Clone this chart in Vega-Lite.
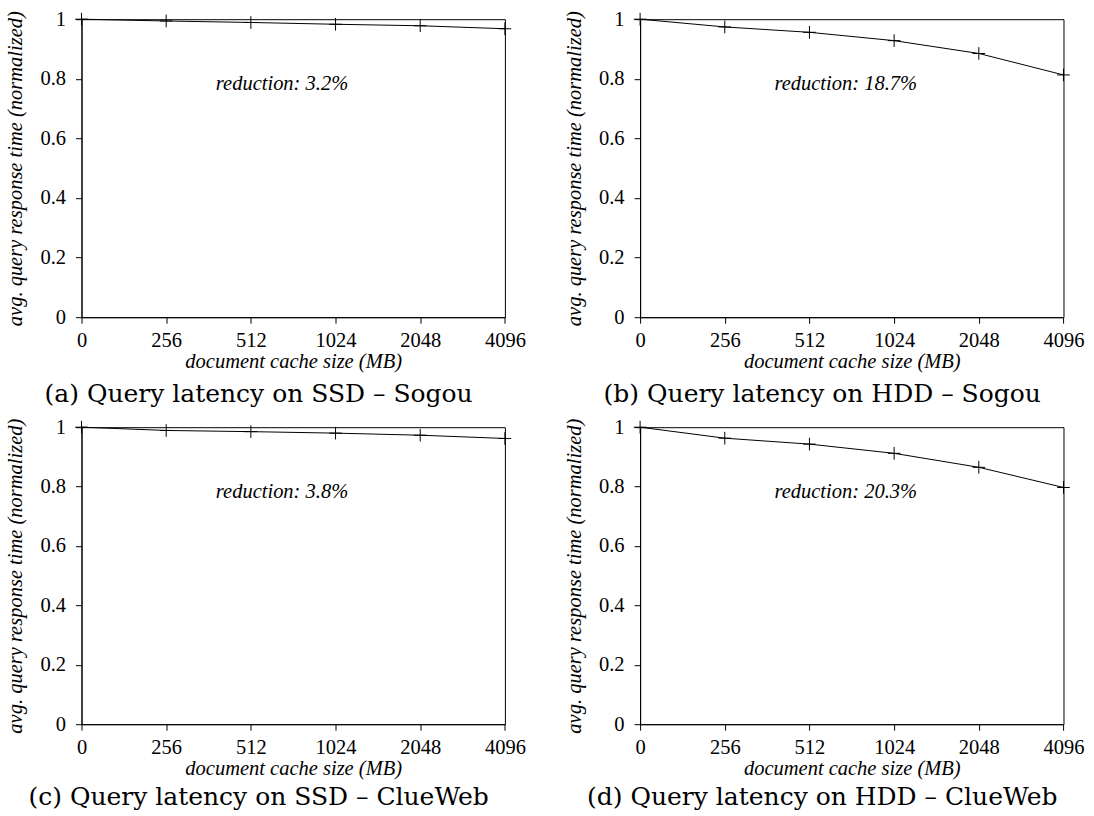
{
  "$schema": "https://vega.github.io/schema/vega-lite/v6.json",
  "padding": {"left": 4.5, "top": 8.2, "right": 5, "bottom": 5},
  "background": "white",
  "datasets": {
    "lat": [
      {"panel": "a", "size": 0, "rt": 1.0},
      {"panel": "a", "size": 256, "rt": 0.994},
      {"panel": "a", "size": 512, "rt": 0.989},
      {"panel": "a", "size": 1024, "rt": 0.983},
      {"panel": "a", "size": 2048, "rt": 0.978},
      {"panel": "a", "size": 4096, "rt": 0.968},
      {"panel": "b", "size": 0, "rt": 1.0},
      {"panel": "b", "size": 256, "rt": 0.974},
      {"panel": "b", "size": 512, "rt": 0.956},
      {"panel": "b", "size": 1024, "rt": 0.928},
      {"panel": "b", "size": 2048, "rt": 0.885},
      {"panel": "b", "size": 4096, "rt": 0.813},
      {"panel": "c", "size": 0, "rt": 1.0},
      {"panel": "c", "size": 256, "rt": 0.989},
      {"panel": "c", "size": 512, "rt": 0.985},
      {"panel": "c", "size": 1024, "rt": 0.980},
      {"panel": "c", "size": 2048, "rt": 0.973},
      {"panel": "c", "size": 4096, "rt": 0.962},
      {"panel": "d", "size": 0, "rt": 1.0},
      {"panel": "d", "size": 256, "rt": 0.963},
      {"panel": "d", "size": 512, "rt": 0.943},
      {"panel": "d", "size": 1024, "rt": 0.912},
      {"panel": "d", "size": 2048, "rt": 0.865},
      {"panel": "d", "size": 4096, "rt": 0.797}
    ],
    "notes": [
      {"panel": "a", "note": "reduction: 3.2%"},
      {"panel": "b", "note": "reduction: 18.7%"},
      {"panel": "c", "note": "reduction: 3.8%"},
      {"panel": "d", "note": "reduction: 20.3%"}
    ]
  },
  "config": {
    "font": "Liberation Serif",
    "view": {"stroke": "black", "strokeWidth": 1},
    "axis": {
      "domainColor": "black", "tickColor": "black", "labelColor": "black", "titleColor": "black",
      "labelFont": "Liberation Serif", "labelFontSize": 20.5,
      "titleFont": "Liberation Serif", "titleFontSize": 20.5, "titleFontStyle": "italic", "titleFontWeight": "normal",
      "grid": false, "tickSize": 6, "tickWidth": 1, "domainWidth": 1,
      "labelOverlap": false, "labelFlush": false
    },
    "axisX": {"labelPadding": 7, "titlePadding": 1},
    "axisY": {"labelPadding": 10, "titlePadding": 14},
    "text": {"font": "Liberation Serif", "fontStyle": "italic", "fontSize": 20.5, "color": "black"},
    "title": {"font": "DejaVu Serif", "fontSize": 25, "fontWeight": "normal", "color": "black", "orient": "bottom", "anchor": "middle", "frame": "bounds", "offset": 10}
  },
  "bounds": "flush",
  "columns": 2,
  "spacing": {"row": 110, "column": 134.6},
  "concat": [
    {
      "width": 423.4, "height": 298,
      "title": {"text": "(a) Query latency on SSD – Sogou", "dx": -7},
      "encoding": {
        "x": {"field": "size", "type": "ordinal", "scale": {"type": "point", "padding": 0}, "axis": {"labelAngle": 0, "title": "document cache size (MB)"}},
        "y": {"field": "rt", "type": "quantitative", "scale": {"domain": [0, 1], "nice": false}, "axis": {"values": [0, 0.2, 0.4, 0.6, 0.8, 1], "format": "~g", "title": "avg. query response time (normalized)"}}
      },
      "layer": [
        {"data": {"name": "lat"}, "transform": [{"filter": "datum.panel === 'a'"}], "mark": {"type": "line", "color": "black", "strokeWidth": 1}},
        {"data": {"name": "lat"}, "transform": [{"filter": "datum.panel === 'a'"}], "mark": {"type": "point", "shape": "M-1,0H1M0,-1V1", "size": 160, "filled": false, "stroke": "black", "strokeWidth": 1, "opacity": 1}},
        {"data": {"name": "lat"}, "transform": [{"filter": "datum.panel === 'a' && datum.size === 512"}, {"lookup": "panel", "from": {"data": {"name": "notes"}, "key": "panel", "fields": ["note"]}}],
         "mark": {"type": "text", "align": "left", "baseline": "alphabetic", "dx": -35, "dy": 11},
         "encoding": {"y": {"datum": 0.8}, "text": {"field": "note", "type": "nominal"}}}
      ]
    },
    {
      "width": 423.4, "height": 298,
      "title": {"text": "(b) Query latency on HDD – Sogou", "dx": -2},
      "encoding": {
        "x": {"field": "size", "type": "ordinal", "scale": {"type": "point", "padding": 0}, "axis": {"labelAngle": 0, "title": "document cache size (MB)"}},
        "y": {"field": "rt", "type": "quantitative", "scale": {"domain": [0, 1], "nice": false}, "axis": {"values": [0, 0.2, 0.4, 0.6, 0.8, 1], "format": "~g", "title": "avg. query response time (normalized)"}}
      },
      "layer": [
        {"data": {"name": "lat"}, "transform": [{"filter": "datum.panel === 'b'"}], "mark": {"type": "line", "color": "black", "strokeWidth": 1}},
        {"data": {"name": "lat"}, "transform": [{"filter": "datum.panel === 'b'"}], "mark": {"type": "point", "shape": "M-1,0H1M0,-1V1", "size": 160, "filled": false, "stroke": "black", "strokeWidth": 1, "opacity": 1}},
        {"data": {"name": "lat"}, "transform": [{"filter": "datum.panel === 'b' && datum.size === 512"}, {"lookup": "panel", "from": {"data": {"name": "notes"}, "key": "panel", "fields": ["note"]}}],
         "mark": {"type": "text", "align": "left", "baseline": "alphabetic", "dx": -35, "dy": 11},
         "encoding": {"y": {"datum": 0.8}, "text": {"field": "note", "type": "nominal"}}}
      ]
    },
    {
      "width": 423.4, "height": 297,
      "title": {"text": "(c) Query latency on SSD – ClueWeb", "dx": -7, "offset": 6},
      "encoding": {
        "x": {"field": "size", "type": "ordinal", "scale": {"type": "point", "padding": 0}, "axis": {"labelAngle": 0, "title": "document cache size (MB)"}},
        "y": {"field": "rt", "type": "quantitative", "scale": {"domain": [0, 1], "nice": false}, "axis": {"values": [0, 0.2, 0.4, 0.6, 0.8, 1], "format": "~g", "title": "avg. query response time (normalized)"}}
      },
      "layer": [
        {"data": {"name": "lat"}, "transform": [{"filter": "datum.panel === 'c'"}], "mark": {"type": "line", "color": "black", "strokeWidth": 1}},
        {"data": {"name": "lat"}, "transform": [{"filter": "datum.panel === 'c'"}], "mark": {"type": "point", "shape": "M-1,0H1M0,-1V1", "size": 160, "filled": false, "stroke": "black", "strokeWidth": 1, "opacity": 1}},
        {"data": {"name": "lat"}, "transform": [{"filter": "datum.panel === 'c' && datum.size === 512"}, {"lookup": "panel", "from": {"data": {"name": "notes"}, "key": "panel", "fields": ["note"]}}],
         "mark": {"type": "text", "align": "left", "baseline": "alphabetic", "dx": -35, "dy": 11},
         "encoding": {"y": {"datum": 0.8}, "text": {"field": "note", "type": "nominal"}}}
      ]
    },
    {
      "width": 423.4, "height": 297,
      "title": {"text": "(d) Query latency on HDD – ClueWeb", "dx": -2, "offset": 6},
      "encoding": {
        "x": {"field": "size", "type": "ordinal", "scale": {"type": "point", "padding": 0}, "axis": {"labelAngle": 0, "title": "document cache size (MB)"}},
        "y": {"field": "rt", "type": "quantitative", "scale": {"domain": [0, 1], "nice": false}, "axis": {"values": [0, 0.2, 0.4, 0.6, 0.8, 1], "format": "~g", "title": "avg. query response time (normalized)"}}
      },
      "layer": [
        {"data": {"name": "lat"}, "transform": [{"filter": "datum.panel === 'd'"}], "mark": {"type": "line", "color": "black", "strokeWidth": 1}},
        {"data": {"name": "lat"}, "transform": [{"filter": "datum.panel === 'd'"}], "mark": {"type": "point", "shape": "M-1,0H1M0,-1V1", "size": 160, "filled": false, "stroke": "black", "strokeWidth": 1, "opacity": 1}},
        {"data": {"name": "lat"}, "transform": [{"filter": "datum.panel === 'd' && datum.size === 512"}, {"lookup": "panel", "from": {"data": {"name": "notes"}, "key": "panel", "fields": ["note"]}}],
         "mark": {"type": "text", "align": "left", "baseline": "alphabetic", "dx": -35, "dy": 11},
         "encoding": {"y": {"datum": 0.8}, "text": {"field": "note", "type": "nominal"}}}
      ]
    }
  ]
}
